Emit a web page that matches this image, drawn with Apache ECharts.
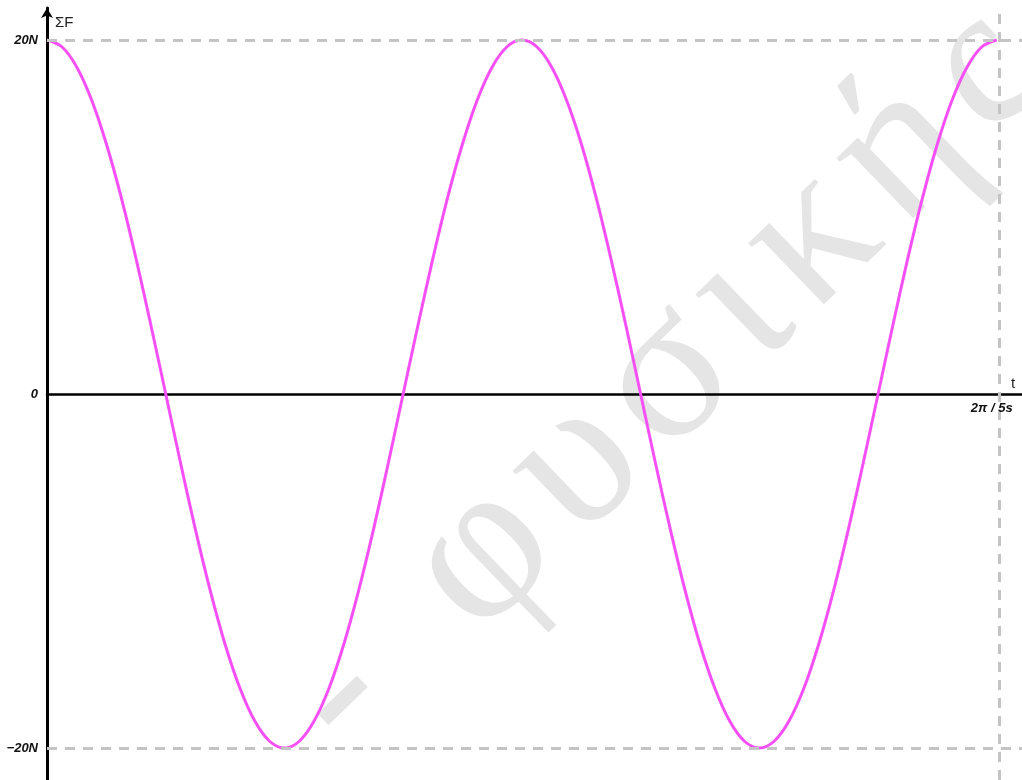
<!DOCTYPE html>
<html>
<head>
<meta charset="utf-8">
<title>ΣF - t</title>
<script src="https://cdn.jsdelivr.net/npm/echarts@6.0.0/dist/echarts.min.js"></script>
<style>
  html, body { margin: 0; padding: 0; background: #fff; }
  #chart { width: 1022px; height: 780px; }
</style>
</head>
<body>
<div id="chart"></div>
<script>
// χρόνος t (s), διαβασμένα από το διάγραμμα
var tValues = [0, 0.0196, 0.0393, 0.0589, 0.0785, 0.0982, 0.1178, 0.1374, 0.1571, 0.1767,
    0.1963, 0.2160, 0.2356, 0.2553, 0.2749, 0.2945, 0.3142, 0.3338, 0.3534, 0.3731,
    0.3927, 0.4123, 0.4320, 0.4516, 0.4712, 0.4909, 0.5105, 0.5301, 0.5498, 0.5694,
    0.5890, 0.6087, 0.6283, 0.6480, 0.6676, 0.6872, 0.7069, 0.7265, 0.7461, 0.7658,
    0.7854, 0.8050, 0.8247, 0.8443, 0.8639, 0.8836, 0.9032, 0.9228, 0.9425, 0.9621,
    0.9817, 1.0014, 1.0210, 1.0407, 1.0603, 1.0799, 1.0996, 1.1192, 1.1388, 1.1585,
    1.1781, 1.1977, 1.2174, 1.2370, 1.2566];
// συνισταμένη δύναμη ΣF (N)
var forceValues = [20, 19.62, 18.48, 16.63, 14.14, 11.11, 7.65, 3.90, 0, -3.90,
    -7.65, -11.11, -14.14, -16.63, -18.48, -19.62, -20, -19.62, -18.48, -16.63,
    -14.14, -11.11, -7.65, -3.90, 0, 3.90, 7.65, 11.11, 14.14, 16.63,
    18.48, 19.62, 20, 19.62, 18.48, 16.63, 14.14, 11.11, 7.65, 3.90,
    0, -3.90, -7.65, -11.11, -14.14, -16.63, -18.48, -19.62, -20, -19.62,
    -18.48, -16.63, -14.14, -11.11, -7.65, -3.90, 0, 3.90, 7.65, 11.11,
    14.14, 16.63, 18.48, 19.62, 20];
// τιμές και ετικέτες αξόνων
var yTicks = [-20, 0, 20];
var yTickLabels = ['−20N', '0', '20N'];
var tEnd = 1.2566;
var tEndLabel = '2π / 5s';
// υδατογράφημα (με λεπτά κενά ανάμεσα στα γράμματα)
var watermark = 'Α  -  ' + ['φ', 'υ', 'σ', 'ι', 'κ', 'ή', 'ς'].join('\u200A');

var chart = echarts.init(document.getElementById('chart'));

var points = tValues.map(function (t, i) {
    return [t, forceValues[i]];
});

var labelStyle = {
    color: '#111',
    fontFamily: 'Liberation Sans, Arial, sans-serif',
    fontSize: 13,
    fontWeight: 'bold',
    fontStyle: 'italic'
};

var option = {
    animation: false,
    backgroundColor: '#fff',
    grid: { left: 47, right: 0, top: 8, bottom: 0, outerBoundsMode: 'none', containLabel: false },
    graphic: [{
        type: 'text',
        x: 1014,
        y: 44,
        rotation: 44 * Math.PI / 180,
        z: -10,
        silent: true,
        style: {
            text: watermark,
            fill: '#e5e5e5',
            font: '210px "Liberation Serif", "Times New Roman", serif',
            align: 'right',
            verticalAlign: 'middle'
        }
    }],
    xAxis: {
        type: 'value',
        min: 0,
        max: 1.29,
        name: 't',
        nameLocation: 'end',
        nameGap: -11,
        nameTextStyle: {
            color: '#222', fontSize: 15, fontFamily: 'Liberation Sans, Arial, sans-serif',
            align: 'left', verticalAlign: 'bottom', padding: [0, 0, 3, 0]
        },
        axisLine: { lineStyle: { color: '#000', width: 2.5 } },
        axisTick: { show: false },
        splitLine: { show: false },
        axisLabel: { show: false }
    },
    yAxis: {
        type: 'value',
        min: -21.81,
        max: 21.81,
        name: 'ΣF',
        nameLocation: 'end',
        nameGap: -22,
        nameTextStyle: {
            color: '#222', fontSize: 15, fontFamily: 'Liberation Sans, Arial, sans-serif',
            align: 'left', verticalAlign: 'bottom', padding: [0, 0, 0, 8]
        },
        axisLine: {
            lineStyle: { color: '#000', width: 3 },
            symbol: ['none', 'arrow'],
            symbolSize: [9, 10]
        },
        axisTick: { show: false },
        splitLine: { show: false },
        axisLabel: Object.assign({
            customValues: yTicks,
            margin: 9,
            formatter: function (v) {
                return yTickLabels[yTicks.indexOf(Math.round(v))];
            }
        }, labelStyle)
    },
    series: [{
        type: 'line',
        data: points,
        smooth: 0.33,
        showSymbol: false,
        lineStyle: { color: '#f550f5', width: 3 },
        markLine: {
            silent: true,
            symbol: 'none',
            label: { show: false },
            lineStyle: { color: '#c4c4c4', width: 3, type: [10, 8] },
            data: [{ yAxis: 20 }, { yAxis: -20 }, { xAxis: tEnd }]
        },
        markPoint: {
            silent: true,
            symbol: 'circle',
            symbolSize: 0,
            label: Object.assign({
                show: true,
                position: 'bottom',
                distance: 8,
                offset: [-5, 0],
                formatter: tEndLabel
            }, labelStyle),
            data: [{ coord: [tEnd, 0] }]
        }
    }]
};

chart.setOption(option);
</script>
</body>
</html>
